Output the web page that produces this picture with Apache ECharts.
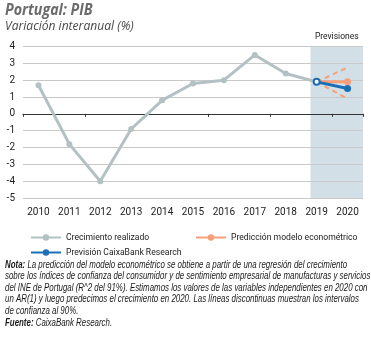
<!DOCTYPE html>
<html><head><meta charset="utf-8">
<script src="https://cdn.jsdelivr.net/npm/echarts@6/dist/echarts.min.js"></script>
<style>html,body{margin:0;padding:0;background:#fff}#c{width:371px;height:338px}</style>
</head><body><div id="c"></div>
<script>
const years = ['2010','2011','2012','2013','2014','2015','2016','2017','2018','2019','2020'];
const yTicks = [4,3,2,1,0,-1,-2,-3,-4,-5];
const realizado = [1.7,-1.8,-4.0,-0.9,0.8,1.8,2.0,3.5,2.4,1.9,null];
const prediccion = [null,null,null,null,null,null,null,null,null,1.9,1.9];
const prevision = [null,null,null,null,null,null,null,null,null,1.9,1.5];
const intervaloSup = [null,null,null,null,null,null,null,null,null,1.9,2.75];
const intervaloInf = [null,null,null,null,null,null,null,null,null,1.9,0.9];
const previsionesDesde = 8.8, previsionesHasta = 10.5;

const FONT = "'Liberation Sans',sans-serif";
const LFONT = "Roboto,'Liberation Sans',sans-serif";
const GRAY = '#b3c1c4', ORANGE = '#f5a07a', BLUE = '#1c6fb6';

const chart = echarts.init(document.getElementById('c'));
chart.setOption({
  animation: false,
  textStyle: {fontFamily: FONT},
  grid: {left: 23, right: 8, top: 46.5, bottom: 140, containLabel: false},
  xAxis: [
    {type: 'category', data: years, position: 'bottom',
     axisLine: {show: false, onZero: false}, axisTick: {show: false},
     axisLabel: {color: '#222', fontSize: 10, margin: 9, fontFamily: LFONT}},
    {type: 'category', data: years,
     axisLine: {show: true, onZero: true, lineStyle: {color: '#333', width: 1}},
     axisTick: {show: true, inside: true, length: 3, lineStyle: {color: '#333'}},
     axisLabel: {show: false}},
    {type: 'value', min: -0.5, max: 10.5, show: false, axisLine: {onZero: false}}
  ],
  yAxis: {type: 'value', min: -5, max: 4, interval: 1,
    axisLine: {show: false}, axisTick: {show: false},
    axisLabel: {color: '#222', fontSize: 10, margin: 8, fontFamily: LFONT},
    splitLine: {lineStyle: {color: '#c9c9c9', width: 1}}},
  legend: [
    {left: 30, top: 233, orient: 'vertical', itemWidth: 30, itemHeight: 8, itemGap: 6, padding: 0,
     textStyle: {fontSize: 8.6, color: '#222', fontFamily: LFONT},
     data: ['Crecimiento realizado', 'Previsión CaixaBank Research']},
    {left: 195, top: 233, orient: 'vertical', itemWidth: 30, itemHeight: 8, padding: 0,
     textStyle: {fontSize: 8.6, color: '#222', fontFamily: LFONT},
     data: ['Predicción modelo econométrico']}
  ],
  series: [
    {type: 'line', name: 'zona', xAxisIndex: 2, data: [], silent: true, z: 0,
     markArea: {silent: true, z: -1, itemStyle: {color: '#d3dfe6'},
       label: {show: true, position: 'top', distance: 5, color: '#222', fontSize: 8.5, fontFamily: LFONT},
       data: [[{name: 'Previsiones', xAxis: previsionesDesde}, {xAxis: previsionesHasta}]]}},
    {type: 'line', name: 'Crecimiento realizado', data: realizado, color: GRAY,
     lineStyle: {width: 3, color: GRAY}, symbol: 'circle', symbolSize: 6, itemStyle: {color: GRAY}},
    {type: 'line', name: 'intervalo sup', data: intervaloSup, showSymbol: false, symbol: 'none',
     lineStyle: {width: 2, color: ORANGE, type: [5, 4]}},
    {type: 'line', name: 'intervalo inf', data: intervaloInf, showSymbol: false, symbol: 'none',
     lineStyle: {width: 2, color: ORANGE, type: [5, 4]}},
    {type: 'line', name: 'Predicción modelo econométrico', data: prediccion, color: ORANGE,
     lineStyle: {width: 3, color: ORANGE}, symbol: 'circle', symbolSize: 7, itemStyle: {color: ORANGE}},
    {type: 'line', name: 'Previsión CaixaBank Research', color: BLUE,
     data: prevision.map((v, i) => i === 9 ? {value: v, symbol: 'emptyCircle', symbolSize: 6, itemStyle: {borderWidth: 2}} : v),
     lineStyle: {width: 3, color: BLUE}, symbol: 'circle', symbolSize: 7, itemStyle: {color: BLUE}}
  ],
  graphic: [
    {type: 'text', left: 5, top: 2, scaleX: 0.89, style: {text: 'Portugal: PIB', fill: '#6b6b6b',
      font: "italic bold 16px 'Open Sans', sans-serif"}},
    {type: 'text', left: 5, top: 20, scaleX: 0.93, style: {text: 'Variación interanual (%)', fill: '#4a4a4a',
      font: "italic 13px 'Open Sans', sans-serif"}},
    {type: 'text', left: 5, top: 259, scaleX: 0.79, style: {
      text: '{b|Nota:} La predicción del modelo econométrico se obtiene a partir de una regresión del crecimiento\n' +
            'sobre los índices de confianza del consumidor y de sentimiento empresarial de manufacturas y servicios\n' +
            'del INE de Portugal (R^2 del 91%). Estimamos los valores de las variables independientes en 2020 con\n' +
            'un AR(1) y luego predecimos el crecimiento en 2020. Las líneas discontinuas muestran los intervalos\n' +
            'de confianza al 90%.\n' +
            '{b|Fuente:} CaixaBank Research.',
      fill: '#1a1a1a', fontFamily: FONT, fontStyle: 'italic', fontSize: 10, lineHeight: 11.6,
      rich: {b: {fontWeight: 'bold', fontStyle: 'italic', fontFamily: FONT, fontSize: 10, lineHeight: 11.6, fill: '#1a1a1a'}}}}
  ]
});
</script></body></html>
